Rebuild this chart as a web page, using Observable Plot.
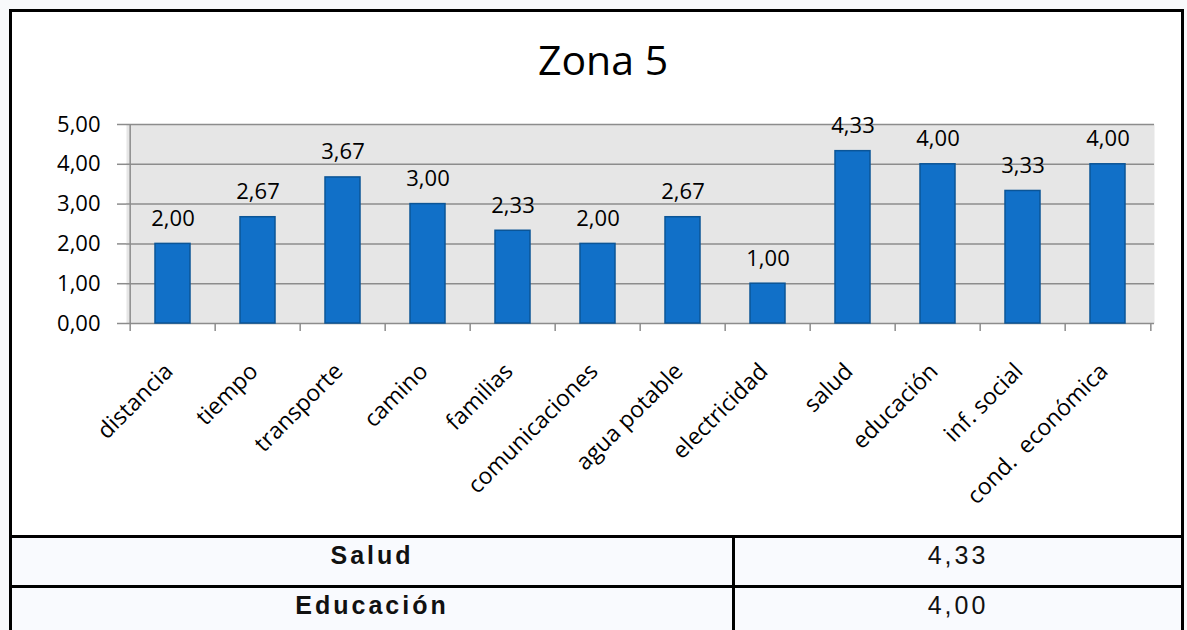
<!DOCTYPE html>
<html>
<head>
<meta charset="utf-8">
<script src="https://cdn.jsdelivr.net/npm/d3@7"></script>
<script src="https://cdn.jsdelivr.net/npm/@observablehq/plot@0.6"></script>
<style>
  html, body { margin: 0; padding: 0; }
  body { width: 1187px; height: 630px; background: #f8f9fb; position: relative; overflow: hidden; font-family: "Open Sans", sans-serif; }
  #box { position: absolute; left: 9px; top: 9px; width: 1175px; height: 529px; box-sizing: border-box; border: 3px solid #000; background: #fff; }
  #chart { position: absolute; left: 0; top: 0; }
  #chart svg text { white-space: pre; }
  #title { position: absolute; left: 403px; top: 31px; width: 400px; text-align: center; font-family: "Open Sans", sans-serif; font-size: 41px; font-weight: 500; line-height: 56px; color: #000; }
  .line { position: absolute; background: #000; }
  .cell { position: absolute; background: #f9fafe; }
  .txt { position: absolute; text-align: center; font-family: "Liberation Sans", Arial, sans-serif; font-size: 25px; line-height: 30px; letter-spacing: 3px; color: #111; }
  .txt.b { font-weight: bold; }
</style>
</head>
<body>
<div id="box"></div>
<div class="cell" style="left:12px;top:538px;width:720px;height:47px"></div>
<div class="cell" style="left:735px;top:538px;width:446px;height:47px"></div>
<div class="cell" style="left:12px;top:588px;width:720px;height:42px"></div>
<div class="cell" style="left:735px;top:588px;width:446px;height:42px"></div>
<div class="line" style="left:9px;top:535px;width:1175px;height:3px"></div>
<div class="line" style="left:9px;top:585px;width:1175px;height:3px"></div>
<div class="line" style="left:9px;top:535px;width:3px;height:95px"></div>
<div class="line" style="left:1181px;top:535px;width:3px;height:95px"></div>
<div class="line" style="left:732px;top:535px;width:3px;height:95px"></div>
<div id="title"></div>
<div id="chart"></div>
<div id="table"></div>
<script>
const title = "Zona 5";
const categories = ["distancia", "tiempo", "transporte", "camino", "familias", "comunicaciones", "agua potable", "electricidad", "salud", "educación", "inf. social", "cond.\u00a0 económica"];
const values = [2.00, 2.67, 3.67, 3.00, 2.33, 2.00, 2.67, 1.00, 4.33, 4.00, 3.33, 4.00];
const yTicks = [0, 1, 2, 3, 4, 5];
const tableLabels = ["Salud", "Educación"];
const tableValues = [4.33, 4.00];

const fmt = v => v.toFixed(2).replace(".", ",");
const data = categories.map((c, i) => ({cat: c, value: values[i]}));

document.getElementById("title").textContent = title;

const W = 1187, H = 537, mL = 126, mR = 33, mT = 124, mB = 214;
const step = (W - mL - mR) / categories.length;
const grid = "#8c8c8c";

const plot = Plot.plot({
  width: W, height: H,
  marginLeft: mL, marginRight: mR, marginTop: mT, marginBottom: mB,
  style: {fontFamily: "'Open Sans', sans-serif", fontSize: "22px", background: "transparent", overflow: "visible"},
  x: {type: "band", domain: categories, paddingInner: 0.586, paddingOuter: 0.293},
  y: {domain: [0, 5]},
  marks: [
    Plot.frame({fill: "#e6e6e6", stroke: null}),
    Plot.ruleY(yTicks, {y: d => d, stroke: grid, strokeWidth: 1.5}),
    Plot.ruleX([categories[0]], {x: d => d, dx: -step / 2, y1: 0, y2: 5, stroke: grid, strokeWidth: 1.5}),
    Plot.ruleX(categories, {x: d => d, dx: -step / 2, y1: 0, y2: 0, insetBottom: -8, stroke: grid, strokeWidth: 1.5}),
    Plot.ruleX([categories[categories.length - 1]], {x: d => d, dx: step / 2, y1: 0, y2: 0, insetBottom: -8, stroke: grid, strokeWidth: 1.5}),
    Plot.barY(data, {x: "cat", y: "value", fill: "#1170c8", stroke: "#0b5597", strokeWidth: 1.5}),
    Plot.text(data, {x: "cat", y: "value", text: d => fmt(d.value), dy: -18, lineAnchor: "bottom", fontSize: 22, fill: "#000"}),
    Plot.axisY(yTicks, {label: null, tickSize: 9, tickPadding: 17, stroke: grid, strokeWidth: 1.5, fill: "#000", tickFormat: fmt, fontSize: 22}),
    Plot.axisX({label: null, tickRotate: -45, tickSize: 0, tickPadding: 40, dx: -4, dy: 4, fontSize: 23, fill: "#000"})
  ]
});
document.getElementById("chart").appendChild(plot);

const tbl = document.getElementById("table");
const rowTops = [540, 590];
tableLabels.forEach((lab, i) => {
  const a = document.createElement("div");
  a.className = "txt b";
  a.style.cssText = `left:12px;width:720px;top:${rowTops[i]}px`;
  a.textContent = lab;
  tbl.appendChild(a);
  const b = document.createElement("div");
  b.className = "txt";
  b.style.cssText = `left:735px;width:446px;top:${rowTops[i]}px`;
  b.textContent = fmt(tableValues[i]);
  tbl.appendChild(b);
});
</script>
</body>
</html>
